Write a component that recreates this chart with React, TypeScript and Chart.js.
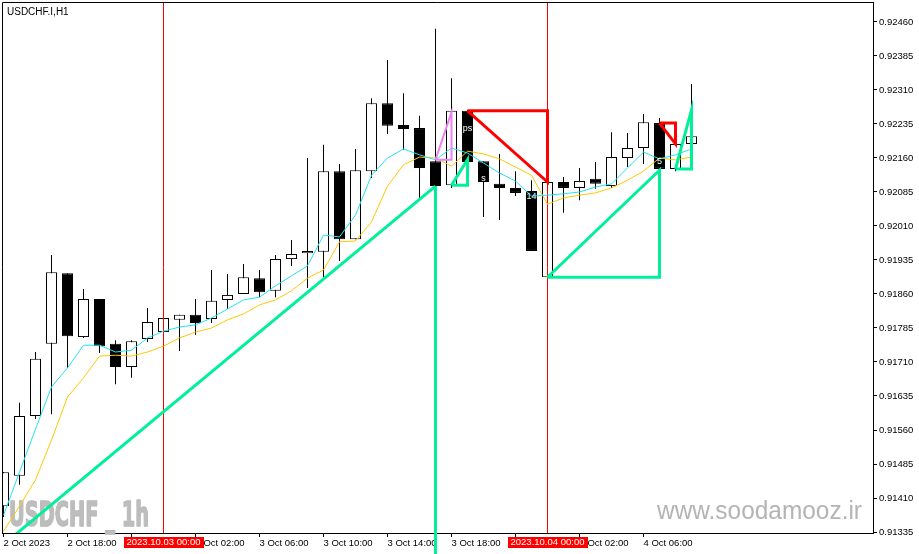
import React, { useEffect, useRef } from 'react';
import { Chart, registerables } from 'chart.js';

Chart.register(...registerables);

// ---- data ----
const timeTickIndex = [0, 4, 8, 12, 16, 20, 24, 28, 32, 36, 40];
const timeLabels = ['2 Oct 2023', '2 Oct 18:00', '2 Oct 22:00', '3 Oct 02:00', '3 Oct 06:00', '3 Oct 10:00', '3 Oct 14:00', '3 Oct 18:00', '3 Oct 22:00', '4 Oct 02:00', '4 Oct 06:00'];
const priceTicks = [0.9246, 0.92385, 0.9231, 0.92235, 0.9216, 0.92085, 0.9201, 0.91935, 0.9186, 0.91785, 0.9171, 0.91635, 0.9156, 0.91485, 0.9141, 0.91335];

const opens = [0.91392, 0.91459, 0.91591, 0.9175, 0.91906, 0.91765, 0.91849, 0.9175, 0.91699, 0.91761, 0.91776, 0.91803, 0.91814, 0.91805, 0.91847, 0.9186, 0.91895, 0.91867, 0.91937, 0.9195, 0.91953, 0.92131, 0.91981, 0.92131, 0.92281, 0.92233, 0.92226, 0.92153, 0.921, 0.92264, 0.92153, 0.92103, 0.92094, 0.92087, 0.91897, 0.92107, 0.92094, 0.92114, 0.92098, 0.9216, 0.92182, 0.92237, 0.92136, 0.92191];
const highs = [0.91467, 0.9162, 0.91732, 0.91946, 0.91906, 0.91871, 0.91849, 0.91758, 0.91758, 0.91829, 0.91807, 0.91814, 0.91849, 0.91913, 0.91904, 0.91926, 0.91913, 0.91946, 0.91979, 0.9216, 0.92189, 0.92147, 0.9218, 0.92292, 0.92376, 0.92303, 0.92253, 0.92445, 0.92336, 0.92266, 0.92153, 0.92169, 0.92131, 0.92111, 0.92107, 0.92118, 0.92138, 0.92151, 0.92217, 0.92215, 0.92257, 0.92248, 0.922, 0.92323];
const lows = [0.91368, 0.91439, 0.91584, 0.91595, 0.91697, 0.91763, 0.9173, 0.91661, 0.91675, 0.91754, 0.91776, 0.91734, 0.9177, 0.91796, 0.91827, 0.9186, 0.91853, 0.91853, 0.91922, 0.91873, 0.91897, 0.91933, 0.91981, 0.92116, 0.92213, 0.92178, 0.92072, 0.92098, 0.92094, 0.92149, 0.9203, 0.92023, 0.92076, 0.91955, 0.91897, 0.92039, 0.92067, 0.92092, 0.92094, 0.9214, 0.92147, 0.92133, 0.92131, 0.92191];
const closes = [0.91467, 0.91591, 0.91717, 0.91908, 0.91767, 0.91849, 0.91745, 0.91699, 0.91756, 0.91798, 0.91807, 0.91814, 0.91796, 0.91845, 0.91858, 0.91897, 0.91864, 0.91937, 0.91948, 0.91955, 0.92131, 0.91981, 0.92133, 0.92281, 0.92231, 0.92224, 0.92138, 0.92098, 0.92264, 0.92151, 0.92107, 0.92094, 0.92083, 0.91955, 0.92107, 0.92094, 0.92109, 0.92103, 0.92162, 0.92182, 0.92239, 0.92136, 0.92191, 0.92208];

const maFast = [0.91372, 0.91467, 0.91562, 0.91655, 0.91697, 0.91747, 0.91747, 0.91732, 0.91736, 0.91763, 0.91778, 0.91787, 0.91792, 0.91807, 0.91827, 0.91847, 0.91853, 0.91878, 0.919, 0.91922, 0.9199, 0.91986, 0.92034, 0.92122, 0.9216, 0.9218, 0.92167, 0.92156, 0.92182, 0.92171, 0.92149, 0.92127, 0.92109, 0.92076, 0.92078, 0.92081, 0.92085, 0.92096, 0.92103, 0.92138, 0.92173, 0.92158, 0.92167, 0.9218];
const maSlow = [0.91337, 0.91392, 0.9145, 0.91538, 0.91633, 0.91675, 0.91723, 0.91725, 0.91723, 0.91732, 0.91745, 0.91763, 0.91776, 0.91785, 0.91803, 0.91816, 0.91836, 0.91847, 0.91867, 0.91895, 0.91913, 0.91975, 0.91977, 0.92019, 0.92098, 0.92145, 0.92162, 0.9216, 0.92142, 0.92175, 0.92169, 0.92158, 0.9214, 0.92122, 0.92058, 0.92072, 0.92078, 0.92083, 0.92094, 0.92111, 0.92131, 0.9216, 0.92156, 0.92162];

const separatorIndex = [10, 34];
const separatorLabels = ['2023.10.03 00:00', '2023.10.04 00:00'];

// pattern drawings: [index, price]
const bigGreenDiagonal = [[-2, 0.91249], [27, 0.92098]];
const bigGreenVertical = [[27, 0.92098], [27, 0.91249]];
const pinkTriangle = [[27, 0.92156], [28, 0.92261], [28, 0.92156], [27, 0.92156]];
const greenSmallA = [[28, 0.921], [29, 0.92156], [29, 0.921], [28, 0.921]];
const redTriangleA = [[29, 0.92264], [34, 0.92264], [34, 0.92107], [29, 0.92264]];
const greenTriangleB = [[34, 0.91897], [41, 0.91897], [41, 0.92133], [34, 0.91897]];
const redTriangleB = [[41, 0.92237], [42, 0.92237], [42, 0.92191], [41, 0.92237]];
const greenSmallC = [[42, 0.92136], [43, 0.92266], [43, 0.92136], [42, 0.92136]];

const noteTexts = ['ps', 's', '14', '5'];
const noteIndex = [29, 30, 33, 41];
const notePrice = [0.92226, 0.92115, 0.92074, 0.92153];

const X_MIN = -0.09375;
const X_MAX = 54.34375;
const Y_MIN = 0.913328;
const Y_MAX = 0.925041;

const FONT = '"Liberation Sans", Arial, sans-serif';

const pts = (arr: number[][]) => arr.map(([x, y]) => ({ x, y }));

const lineDs = (data: any[], color: string, width: number, order: number, extra: any = {}) => ({
  type: 'line' as const,
  data,
  borderColor: color,
  borderWidth: width,
  pointRadius: 0,
  tension: 0,
  fill: false,
  order,
  ...extra,
});

export default function App() {
  const ref = useRef<HTMLCanvasElement>(null);

  useEffect(() => {
    document.body.style.margin = '0';
    const idx = opens.map((_, i) => i);

    const decorPlugin = {
      id: 'decor',
      beforeDatasetsDraw(chart: any) {
        const ctx = chart.ctx;
        ctx.save();
        // watermark
        ctx.font = `bold 34px "DejaVu Sans", ${FONT}`;
        const t = 'USDCHF _ 1h';
        const w = ctx.measureText(t).width;
        ctx.translate(9, 526);
        ctx.scale(140 / w, 1);
        ctx.fillStyle = '#bdbdbd';
        ctx.strokeStyle = '#b6b6b6';
        ctx.lineWidth = 1.5;
        ctx.lineJoin = 'round';
        ctx.textBaseline = 'alphabetic';
        ctx.strokeText(t, 0, 0);
        ctx.fillText(t, 0, 0);
        ctx.restore();
        ctx.save();
        ctx.font = `25px ${FONT}`;
        const u = 'www.soodamooz.ir';
        const uw = ctx.measureText(u).width;
        ctx.translate(657, 519);
        ctx.scale(205 / uw, 1);
        ctx.fillStyle = '#b4b4b4';
        ctx.fillText(u, 0, 0);
        ctx.restore();
      },
      afterDatasetsDraw(chart: any) {
        const ctx = chart.ctx;
        const { left, top, bottom, right } = chart.chartArea;
        const xs = chart.scales.x;
        const ys = chart.scales.y;
        ctx.save();
        ctx.strokeStyle = '#000';
        ctx.lineWidth = 1;
        ctx.beginPath();
        ctx.moveTo(left + 0.5, bottom);
        ctx.lineTo(left + 0.5, top + 0.5);
        ctx.lineTo(right, top + 0.5);
        ctx.stroke();
        // small notes
        ctx.font = `9px ${FONT}`;
        ctx.textAlign = 'center';
        ctx.textBaseline = 'middle';
        noteTexts.forEach((s, k) => {
          ctx.fillStyle = k === 2 ? '#d8ffff' : '#ffffff';
          ctx.fillText(s, xs.getPixelForValue(noteIndex[k]), ys.getPixelForValue(notePrice[k]));
        });
        ctx.restore();
      },
      afterDraw(chart: any) {
        const ctx = chart.ctx;
        const xs = chart.scales.x;
        ctx.save();
        ctx.font = `9.5px ${FONT}`;
        ctx.textAlign = 'center';
        ctx.textBaseline = 'middle';
        separatorIndex.forEach((s, k) => {
          const px = xs.getPixelForValue(s);
          ctx.fillStyle = '#ff0000';
          ctx.fillRect(Math.round(px - 40), 537, 80, 11);
          ctx.fillStyle = '#ffffff';
          ctx.fillText(separatorLabels[k], px, 542.5);
        });
        ctx.fillStyle = '#000';
        ctx.textAlign = 'left';
        ctx.textBaseline = 'alphabetic';
        ctx.font = `10px ${FONT}`;
        ctx.fillText('USDCHF.I,H1', 7, 15);
        ctx.restore();
      },
    };

    const datasets: any[] = [
      {
        type: 'bar',
        data: idx.map((i) => ({ x: i, y: [lows[i], highs[i]] })),
        backgroundColor: '#000',
        borderWidth: 0,
        barThickness: 1,
        grouped: false,
        inflateAmount: 0,
        clip: 0,
        order: 10,
      },
      {
        type: 'bar',
        data: idx.map((i) => ({ x: i, y: [opens[i], closes[i]] })),
        backgroundColor: idx.map((i) => (closes[i] >= opens[i] ? '#ffffff' : '#000000')),
        borderColor: '#000',
        borderWidth: 1,
        borderSkipped: false,
        barThickness: 11,
        grouped: false,
        inflateAmount: 0,
        clip: 0,
        order: 9,
      },
      ...separatorIndex.map((s) => lineDs([{ x: s, y: Y_MIN }, { x: s, y: Y_MAX }], '#ff0000', 1, 8)),
      lineDs(idx.map((i) => ({ x: i, y: maSlow[i] })), '#ffc800', 1, 6),
      lineDs(idx.map((i) => ({ x: i, y: maFast[i] })), '#20e4f4', 1, 5),
      lineDs(pts(bigGreenDiagonal), '#00f09a', 3, 2),
      lineDs(pts(bigGreenVertical), '#00f09a', 3, 2, { clip: { left: 0, top: 0, right: 0, bottom: 25 } }),
      lineDs(pts(pinkTriangle), '#ee82ee', 2, 2),
      lineDs(pts(greenSmallA), '#00f09a', 3, 2),
      lineDs(pts(redTriangleA), '#ff0000', 3, 1),
      lineDs(pts(greenTriangleB), '#00f09a', 3, 2),
      lineDs(pts(redTriangleB), '#ff0000', 3, 1),
      lineDs(pts(greenSmallC), '#00f09a', 3, 2),
    ];

    const chart = new Chart(ref.current as HTMLCanvasElement, {
      type: 'bar',
      data: { datasets },
      options: {
        animation: false,
        responsive: false,
        devicePixelRatio: 1,
        layout: { padding: { left: 2, top: 2, right: 0, bottom: 0 } },
        plugins: { legend: { display: false }, tooltip: { enabled: false } },
        scales: {
          x: {
            type: 'linear',
            min: X_MIN,
            max: X_MAX,
            offset: false,
            grid: { offset: false, drawOnChartArea: false, drawTicks: true, tickLength: 4, color: '#000', tickColor: '#000' },
            border: { display: true, color: '#000' },
            ticks: {
              autoSkip: false,
              maxRotation: 0,
              minRotation: 0,
              align: 'start',
              padding: 1,
              color: '#000',
              font: { family: FONT, size: 9.5 },
              callback: (v: any) => {
                const k = timeTickIndex.indexOf(Number(v));
                return k >= 0 ? timeLabels[k] : '';
              },
            },
            afterBuildTicks: (s: any) => {
              s.ticks = timeTickIndex.map((v) => ({ value: v }));
            },
            afterFit: (s: any) => {
              s.height = 21;
              s.paddingLeft = 0;
              s.paddingRight = 0;
              s.paddingTop = 0;
              s.paddingBottom = 0;
            },
          },
          y: {
            type: 'linear',
            position: 'right',
            min: Y_MIN,
            max: Y_MAX,
            grid: { drawOnChartArea: false, drawTicks: true, tickLength: 4, color: '#000', tickColor: '#000' },
            border: { display: true, color: '#000' },
            ticks: {
              padding: 2,
              color: '#000',
              font: { family: FONT, size: 9.5 },
              callback: (v: any) => Number(v).toFixed(5),
            },
            afterBuildTicks: (s: any) => {
              s.ticks = priceTicks.map((v) => ({ value: v }));
            },
            afterFit: (s: any) => {
              s.width = 46;
              s.paddingLeft = 0;
              s.paddingRight = 0;
              s.paddingTop = 0;
              s.paddingBottom = 0;
            },
          },
        },
      } as any,
      plugins: [decorPlugin],
    });
    return () => chart.destroy();
  }, []);

  return (
    <div style={{ position: 'absolute', left: 0, top: 0, width: 919, height: 554, background: '#fff' }}>
      <canvas ref={ref} width={919} height={554} style={{ display: 'block', width: 919, height: 554 }} />
    </div>
  );
}
